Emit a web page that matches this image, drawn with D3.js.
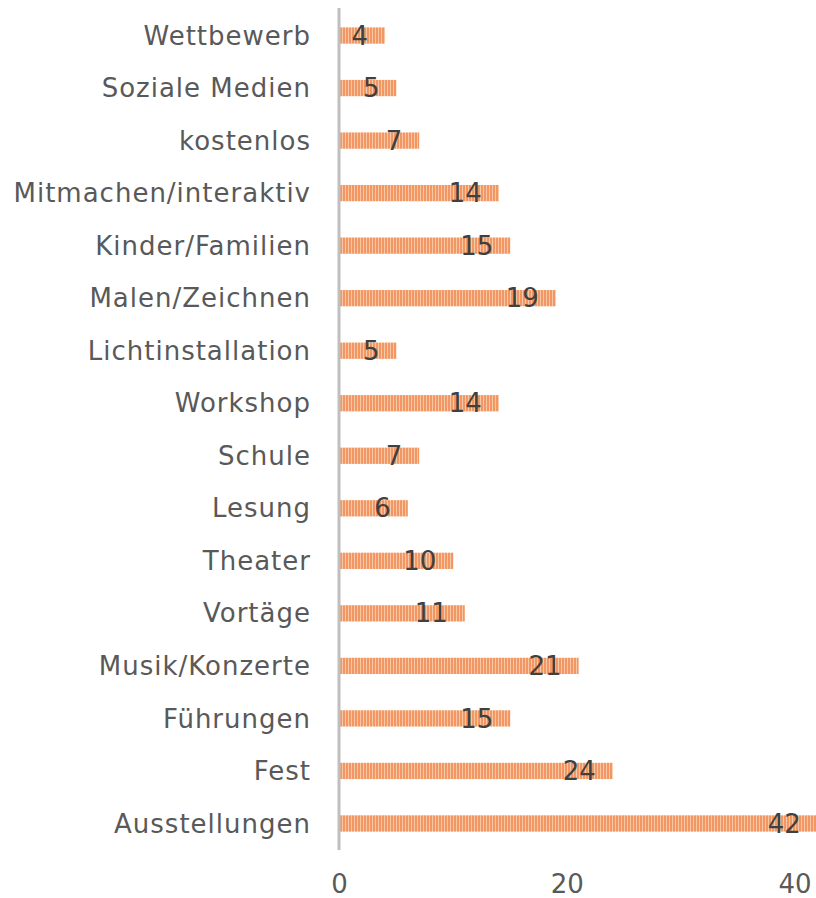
<!DOCTYPE html>
<html>
<head>
<meta charset="utf-8">
<script src="https://cdn.jsdelivr.net/npm/d3@7"></script>
<style>
  body { margin: 0; background: #fff; }
  svg text { font-family: "DejaVu Sans", Verdana, sans-serif; }
</style>
</head>
<body>
<div class="container"></div>
<script>
var categories = ['Wettbewerb', 'Soziale Medien', 'kostenlos', 'Mitmachen/interaktiv',
  'Kinder/Familien', 'Malen/Zeichnen', 'Lichtinstallation', 'Workshop', 'Schule',
  'Lesung', 'Theater', 'Vortäge', 'Musik/Konzerte', 'Führungen', 'Fest', 'Ausstellungen']
var values = [4, 5, 7, 14, 15, 19, 5, 14, 7, 6, 10, 11, 21, 15, 24, 42]
var xTicks = [0, 20, 40]

var width = 816, height = 898
var svg = d3.select('.container').append('svg')
  .attr('width', width).attr('height', height)

// vertical stripes like the office pattern fill
var defs = svg.append('defs')
var pat = defs.append('pattern')
  .attr('id', 'stripes')
  .attr('patternUnits', 'userSpaceOnUse')
  .attr('width', 3).attr('height', 10)
pat.append('rect').attr('width', 3).attr('height', 10).attr('fill', '#f29763')
pat.append('rect').attr('width', 1).attr('height', 10).attr('fill', '#f8c7a6')

var x = d3.scaleLinear().domain([0, 40]).range([339.5, 795])
var y = d3.scaleBand().domain(categories).range([9, 850]).paddingInner(0.69).paddingOuter(0.35)

var g = svg.append('g')

g.selectAll('rect.bar').data(values).join('rect')
  .attr('class', 'bar')
  .attr('x', x(0))
  .attr('y', (d, i) => y(categories[i]))
  .attr('width', d => x(d) - x(0))
  .attr('height', y.bandwidth())
  .attr('fill', 'url(#stripes)')

// axis line
svg.append('line')
  .attr('x1', 339).attr('x2', 339)
  .attr('y1', 8).attr('y2', 850)
  .attr('stroke', '#bfbfbf').attr('stroke-width', 3)

// category labels
g.selectAll('text.cat').data(categories).join('text')
  .attr('class', 'cat')
  .attr('x', 311)
  .attr('y', d => y(d) + y.bandwidth() / 2)
  .attr('dy', '0.35em')
  .attr('text-anchor', 'end')
  .attr('font-size', 26)
  .attr('letter-spacing', 1)
  .attr('fill', '#595959')
  .text(d => d)

// value labels
g.selectAll('text.val').data(values).join('text')
  .attr('class', 'val')
  .attr('x', d => x(d) - 17)
  .attr('y', (d, i) => y(categories[i]) + y.bandwidth() / 2)
  .attr('dy', '0.35em')
  .attr('text-anchor', 'end')
  .attr('font-size', 26)
  .attr('fill', '#404040')
  .text(d => d)

// x tick labels
svg.selectAll('text.tick').data(xTicks).join('text')
  .attr('class', 'tick')
  .attr('x', d => x(d))
  .attr('y', 893)
  .attr('text-anchor', 'middle')
  .attr('font-size', 26)
  .attr('fill', '#595959')
  .text(d => d)
</script>
</body>
</html>
